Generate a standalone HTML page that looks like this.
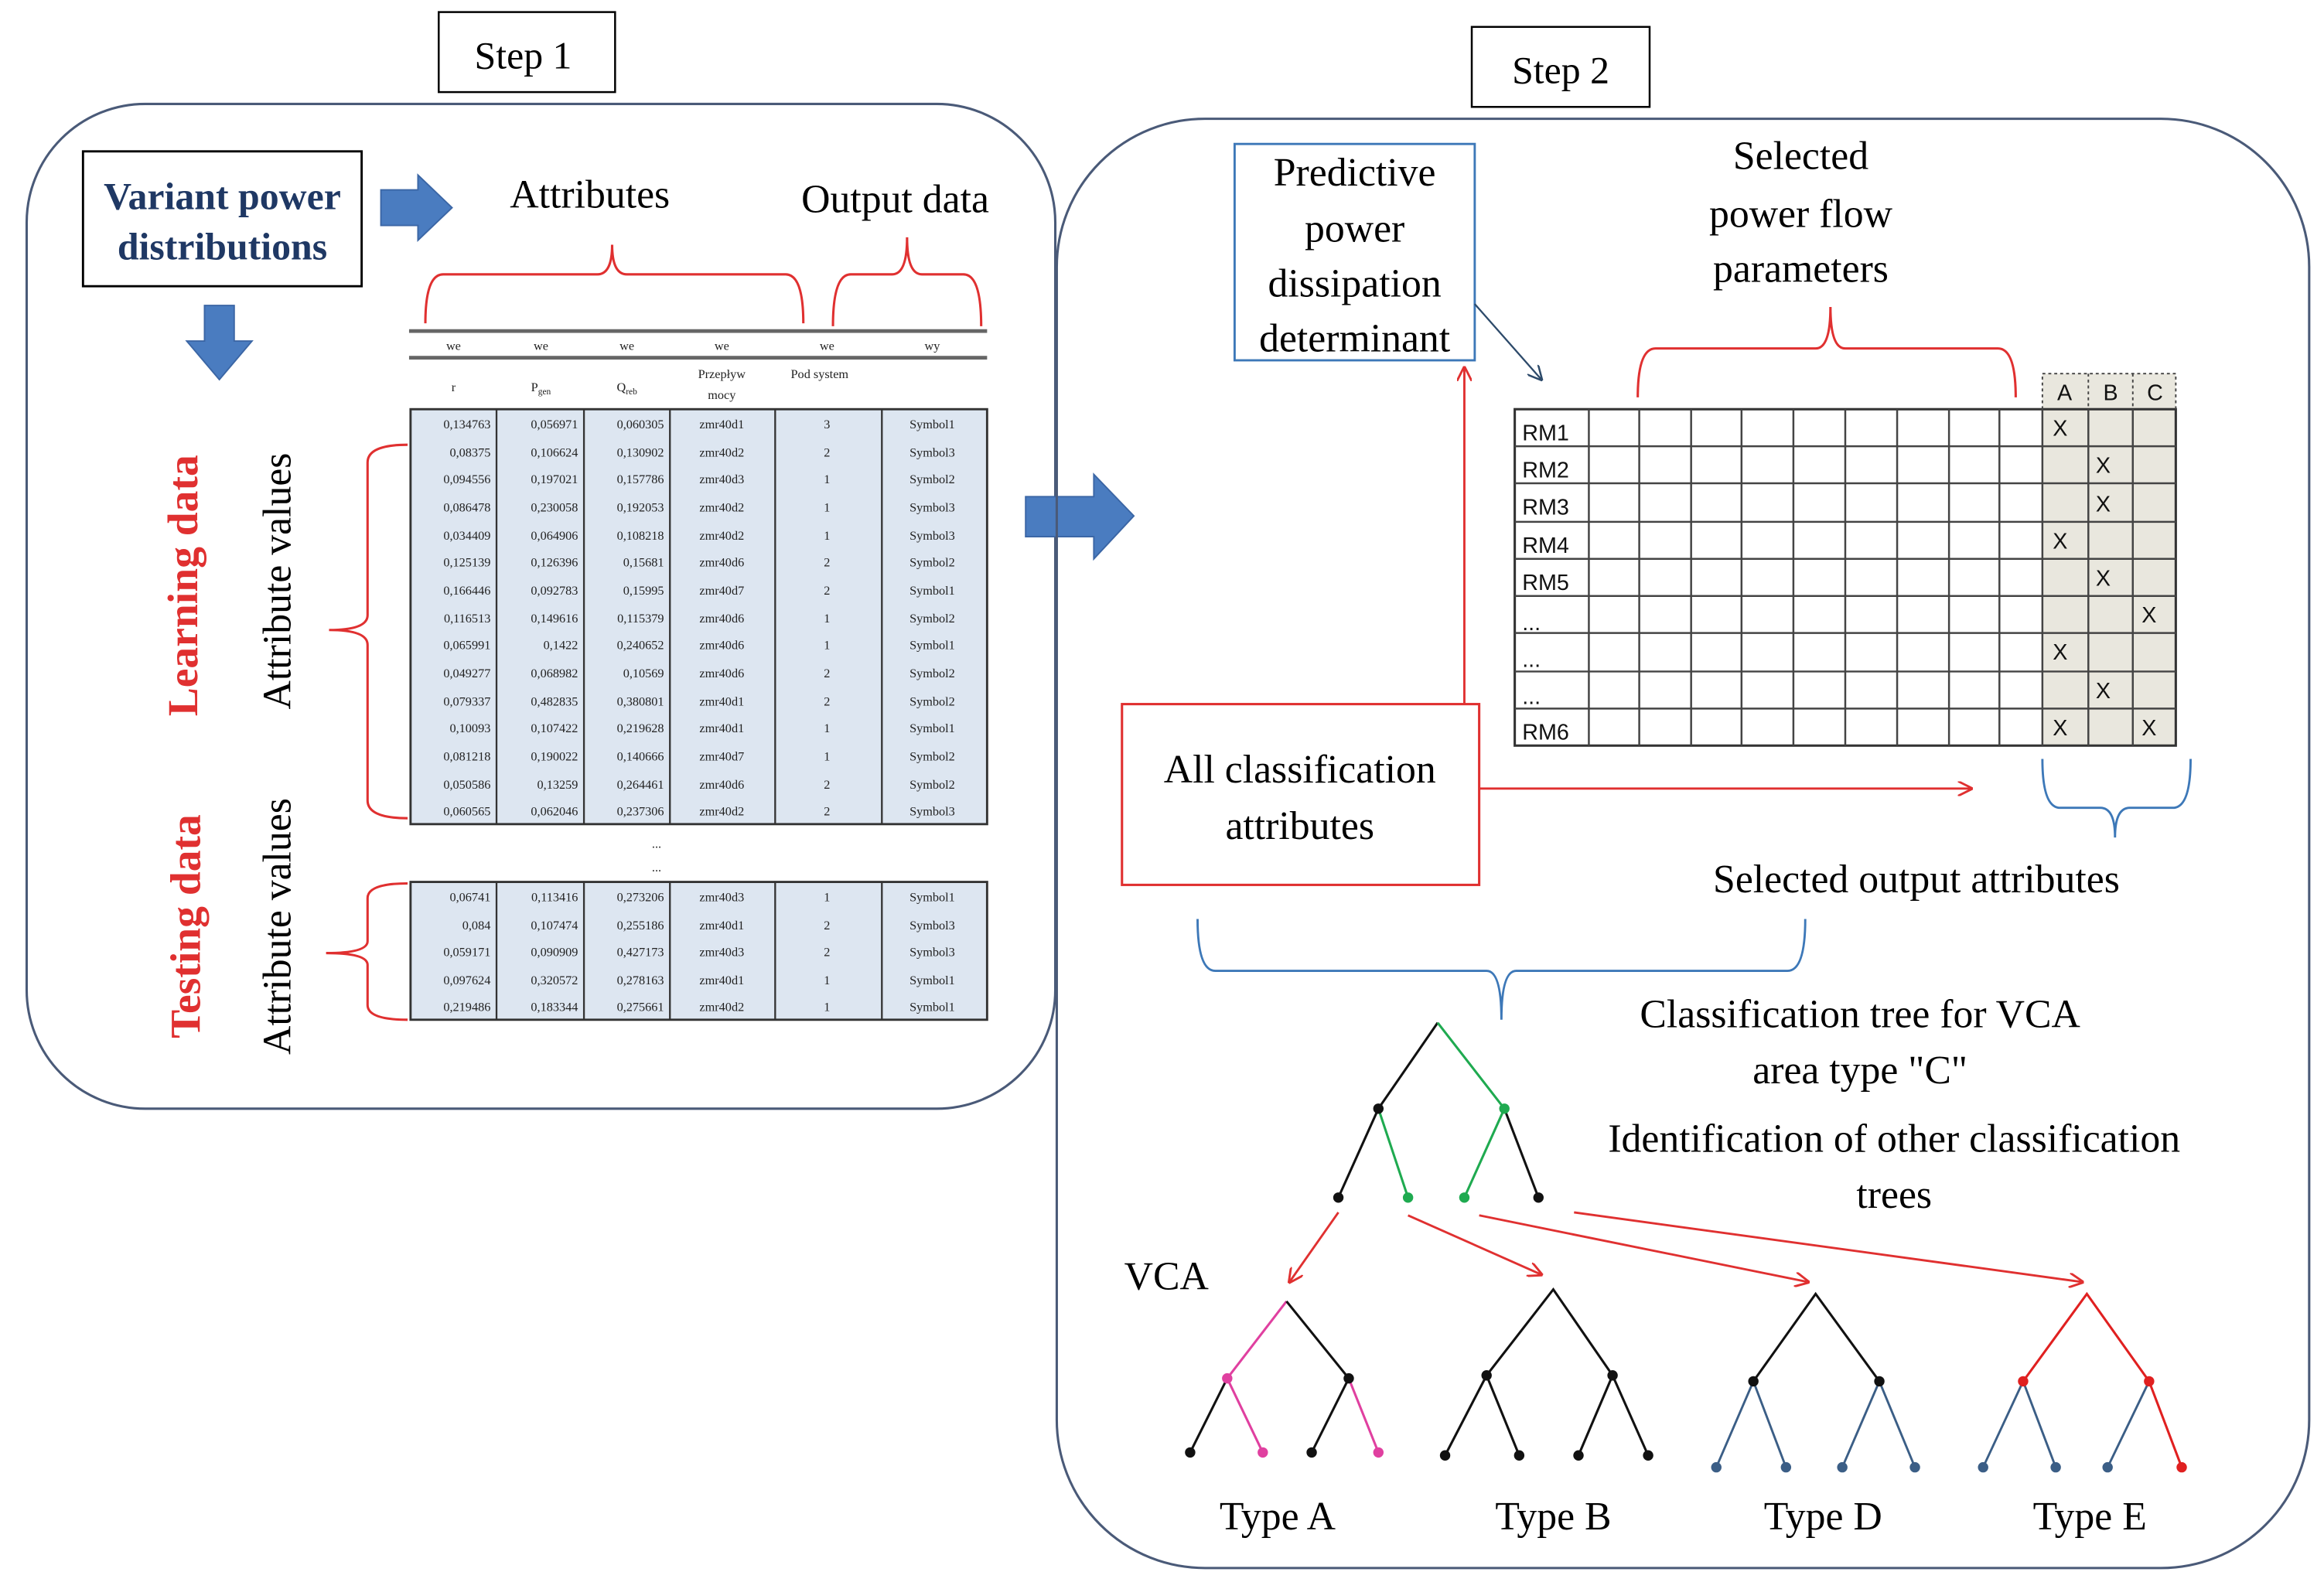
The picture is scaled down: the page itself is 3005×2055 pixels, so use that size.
<!DOCTYPE html>
<html><head><meta charset="utf-8"><style>
html,body{margin:0;padding:0;background:#fff;}
svg{display:block;}
.s{font-family:"Liberation Serif",serif;}
.a{font-family:"Liberation Sans",sans-serif;}
.t{font-family:"Liberation Serif",serif;font-size:8.5px;fill:#222;}
</style></head><body>
<svg width="3005" height="2055" viewBox="0 0 1568 1072" xmlns="http://www.w3.org/2000/svg">
<defs>
<marker id="ar" markerWidth="10" markerHeight="10" refX="9" refY="5" orient="auto" markerUnits="userSpaceOnUse"><path d="M0,0 L10,5 L0,10" fill="none" stroke="#e03030" stroke-width="1.5"/></marker>
<marker id="ab" markerWidth="10" markerHeight="10" refX="9" refY="5" orient="auto" markerUnits="userSpaceOnUse"><path d="M0,0 L10,5 L0,10" fill="none" stroke="#2d4a6a" stroke-width="1.3"/></marker>
</defs>
<rect width="1568" height="1072" fill="#fff"/>

<!-- Step 1 -->
<rect x="296" y="8" width="119" height="54" fill="#fff" stroke="#000" stroke-width="1.3"/>
<text x="353" y="46" class="s" font-size="26" text-anchor="middle">Step 1</text>
<rect x="18" y="70" width="694" height="678" rx="80" fill="none" stroke="#4a5a78" stroke-width="1.6"/>

<rect x="56" y="102" width="188" height="91" fill="#fff" stroke="#000" stroke-width="1.5"/>
<text x="150" y="141" class="s" font-size="26" font-weight="bold" fill="#1f3864" text-anchor="middle">Variant power</text>
<text x="150" y="175" class="s" font-size="26" font-weight="bold" fill="#1f3864" text-anchor="middle">distributions</text>

<polygon points="257,128 282,128 282,118 305,140 282,162 282,152 257,152" fill="#4a7cc0" stroke="#3b66a5"/>
<polygon points="138,206 158,206 158,230 170,230 148,256 126,230 138,230" fill="#4a7cc0" stroke="#3b66a5"/>
<polygon points="692,335 738,335 738,320 765,348 738,377 738,362 692,362" fill="#4a7cc0" stroke="#3b66a5"/>

<text x="398" y="140" class="s" font-size="27" text-anchor="middle">Attributes</text>
<text x="604" y="143" class="s" font-size="27" text-anchor="middle">Output data</text>

<g fill="none" stroke="#e03030" stroke-width="1.6">
<path d="M287 218 Q287 185 299 185 L403 185 Q413 185 413 165 Q413 185 423 185 L530 185 Q542 185 542 218"/>
<path d="M562 220 Q562 185 574 185 L602 185 Q612 185 612 160 Q612 185 622 185 L650 185 Q662 185 662 220"/>
<path d="M275 300 Q248 300 248 312 L248 415 Q248 425 222 425 Q248 425 248 435 L248 540 Q248 552 275 552"/>
<path d="M275 596 Q248 596 248 606 L248 635 Q248 643 220 643 Q248 643 248 651 L248 678 Q248 688 275 688"/>
</g>

<!-- table -->
<g>
<rect x="276" y="222" width="390" height="2.5" fill="#666"/>
<rect x="276" y="240" width="390" height="2.5" fill="#666"/>
<text x="306" y="236" class="t" text-anchor="middle">we</text>
<text x="365" y="236" class="t" text-anchor="middle">we</text>
<text x="423" y="236" class="t" text-anchor="middle">we</text>
<text x="487" y="236" class="t" text-anchor="middle">we</text>
<text x="558" y="236" class="t" text-anchor="middle">we</text>
<text x="629" y="236" class="t" text-anchor="middle">wy</text>
<text x="306" y="264" class="t" text-anchor="middle">r</text>
<text x="365" y="264" class="t" text-anchor="middle">P<tspan font-size="6" dy="2">gen</tspan></text>
<text x="423" y="264" class="t" text-anchor="middle">Q<tspan font-size="6" dy="2">reb</tspan></text>
<text x="487" y="255" class="t" text-anchor="middle">Przepływ</text>
<text x="487" y="269" class="t" text-anchor="middle">mocy</text>
<text x="553" y="255" class="t" text-anchor="middle">Pod system</text>
<rect x="277" y="276" width="389" height="280" fill="#dde6f1" stroke="#333" stroke-width="1.5"/>
<rect x="277" y="595" width="389" height="93" fill="#dde6f1" stroke="#333" stroke-width="1.5"/>
<g stroke="#333" stroke-width="1.2">
<line x1="335" y1="276" x2="335" y2="556"/><line x1="394" y1="276" x2="394" y2="556"/><line x1="452" y1="276" x2="452" y2="556"/><line x1="523" y1="276" x2="523" y2="556"/><line x1="595" y1="276" x2="595" y2="556"/>
<line x1="335" y1="595" x2="335" y2="688"/><line x1="394" y1="595" x2="394" y2="688"/><line x1="452" y1="595" x2="452" y2="688"/><line x1="523" y1="595" x2="523" y2="688"/><line x1="595" y1="595" x2="595" y2="688"/>
</g>
<text x="443" y="572" class="t" text-anchor="middle">...</text>
<text x="443" y="588" class="t" text-anchor="middle">...</text>
<g class="t">
<g text-anchor="end">
<text x="331" y="289">0,134763</text><text x="390" y="289">0,056971</text><text x="448" y="289">0,060305</text>
<text x="331" y="308">0,08375</text><text x="390" y="308">0,106624</text><text x="448" y="308">0,130902</text>
<text x="331" y="326">0,094556</text><text x="390" y="326">0,197021</text><text x="448" y="326">0,157786</text>
<text x="331" y="345">0,086478</text><text x="390" y="345">0,230058</text><text x="448" y="345">0,192053</text>
<text x="331" y="364">0,034409</text><text x="390" y="364">0,064906</text><text x="448" y="364">0,108218</text>
<text x="331" y="382">0,125139</text><text x="390" y="382">0,126396</text><text x="448" y="382">0,15681</text>
<text x="331" y="401">0,166446</text><text x="390" y="401">0,092783</text><text x="448" y="401">0,15995</text>
<text x="331" y="420">0,116513</text><text x="390" y="420">0,149616</text><text x="448" y="420">0,115379</text>
<text x="331" y="438">0,065991</text><text x="390" y="438">0,1422</text><text x="448" y="438">0,240652</text>
<text x="331" y="457">0,049277</text><text x="390" y="457">0,068982</text><text x="448" y="457">0,10569</text>
<text x="331" y="476">0,079337</text><text x="390" y="476">0,482835</text><text x="448" y="476">0,380801</text>
<text x="331" y="494">0,10093</text><text x="390" y="494">0,107422</text><text x="448" y="494">0,219628</text>
<text x="331" y="513">0,081218</text><text x="390" y="513">0,190022</text><text x="448" y="513">0,140666</text>
<text x="331" y="532">0,050586</text><text x="390" y="532">0,13259</text><text x="448" y="532">0,264461</text>
<text x="331" y="550">0,060565</text><text x="390" y="550">0,062046</text><text x="448" y="550">0,237306</text>
<text x="331" y="608">0,06741</text><text x="390" y="608">0,113416</text><text x="448" y="608">0,273206</text>
<text x="331" y="627">0,084</text><text x="390" y="627">0,107474</text><text x="448" y="627">0,255186</text>
<text x="331" y="645">0,059171</text><text x="390" y="645">0,090909</text><text x="448" y="645">0,427173</text>
<text x="331" y="664">0,097624</text><text x="390" y="664">0,320572</text><text x="448" y="664">0,278163</text>
<text x="331" y="682">0,219486</text><text x="390" y="682">0,183344</text><text x="448" y="682">0,275661</text>
</g>
<g text-anchor="middle">
<text x="487" y="289">zmr40d1</text><text x="558" y="289">3</text><text x="629" y="289">Symbol1</text>
<text x="487" y="308">zmr40d2</text><text x="558" y="308">2</text><text x="629" y="308">Symbol3</text>
<text x="487" y="326">zmr40d3</text><text x="558" y="326">1</text><text x="629" y="326">Symbol2</text>
<text x="487" y="345">zmr40d2</text><text x="558" y="345">1</text><text x="629" y="345">Symbol3</text>
<text x="487" y="364">zmr40d2</text><text x="558" y="364">1</text><text x="629" y="364">Symbol3</text>
<text x="487" y="382">zmr40d6</text><text x="558" y="382">2</text><text x="629" y="382">Symbol2</text>
<text x="487" y="401">zmr40d7</text><text x="558" y="401">2</text><text x="629" y="401">Symbol1</text>
<text x="487" y="420">zmr40d6</text><text x="558" y="420">1</text><text x="629" y="420">Symbol2</text>
<text x="487" y="438">zmr40d6</text><text x="558" y="438">1</text><text x="629" y="438">Symbol1</text>
<text x="487" y="457">zmr40d6</text><text x="558" y="457">2</text><text x="629" y="457">Symbol2</text>
<text x="487" y="476">zmr40d1</text><text x="558" y="476">2</text><text x="629" y="476">Symbol2</text>
<text x="487" y="494">zmr40d1</text><text x="558" y="494">1</text><text x="629" y="494">Symbol1</text>
<text x="487" y="513">zmr40d7</text><text x="558" y="513">1</text><text x="629" y="513">Symbol2</text>
<text x="487" y="532">zmr40d6</text><text x="558" y="532">2</text><text x="629" y="532">Symbol2</text>
<text x="487" y="550">zmr40d2</text><text x="558" y="550">2</text><text x="629" y="550">Symbol3</text>
<text x="487" y="608">zmr40d3</text><text x="558" y="608">1</text><text x="629" y="608">Symbol1</text>
<text x="487" y="627">zmr40d1</text><text x="558" y="627">2</text><text x="629" y="627">Symbol3</text>
<text x="487" y="645">zmr40d3</text><text x="558" y="645">2</text><text x="629" y="645">Symbol3</text>
<text x="487" y="664">zmr40d1</text><text x="558" y="664">1</text><text x="629" y="664">Symbol1</text>
<text x="487" y="682">zmr40d2</text><text x="558" y="682">1</text><text x="629" y="682">Symbol1</text>
</g>
</g>
</g>

<text transform="translate(133,395) rotate(-90)" class="s" font-size="29" font-weight="bold" fill="#e03030" text-anchor="middle">Learning data</text>
<text transform="translate(196,392) rotate(-90)" class="s" font-size="27" text-anchor="middle">Attribute values</text>
<text transform="translate(135,625) rotate(-90)" class="s" font-size="29" font-weight="bold" fill="#e03030" text-anchor="middle">Testing data</text>
<text transform="translate(196,625) rotate(-90)" class="s" font-size="27" text-anchor="middle">Attribute values</text>

<!-- Step 2 -->
<rect x="993" y="18" width="120" height="54" fill="#fff" stroke="#000" stroke-width="1.3"/>
<text x="1053" y="56" class="s" font-size="26" text-anchor="middle">Step 2</text>
<rect x="713" y="80" width="845" height="978" rx="100" fill="none" stroke="#4a5a78" stroke-width="1.6"/>

<rect x="833" y="97" width="162" height="146" fill="#fff" stroke="#3d78b8" stroke-width="1.5"/>
<rect x="757" y="475" width="241" height="122" fill="#fff" stroke="#e03030" stroke-width="1.6"/>
<g class="s" font-size="27" text-anchor="middle">
<text x="914" y="125">Predictive</text><text x="914" y="163">power</text><text x="914" y="200">dissipation</text><text x="914" y="237">determinant</text>
<text x="1215" y="114">Selected</text><text x="1215" y="153">power flow</text><text x="1215" y="190">parameters</text>
<text x="877" y="528">All classification</text><text x="877" y="566">attributes</text>
<text x="1293" y="602">Selected output attributes</text>
<text x="1255" y="693">Classification tree for VCA</text>
<text x="1255" y="731">area type "C"</text>
<text x="1278" y="777">Identification of other classification</text>
<text x="1278" y="815">trees</text>
<text x="787" y="870">VCA</text>
<text x="862" y="1032">Type A</text><text x="1048" y="1032">Type B</text><text x="1230" y="1032">Type D</text><text x="1410" y="1032">Type E</text>
</g>
<line x1="995" y1="205" x2="1040" y2="256" stroke="#2d4a6a" stroke-width="1.2" marker-end="url(#ab)"/>

<path d="M1105 268 Q1105 235 1117 235 L1225 235 Q1235 235 1235 207 Q1235 235 1245 235 L1348 235 Q1360 235 1360 268" fill="none" stroke="#e03030" stroke-width="1.6"/>

<!-- grid -->
<rect x="1378" y="252" width="90" height="251" fill="#e9e7de"/>
<rect x="1022" y="276" width="446" height="227" fill="none" stroke="#333" stroke-width="1.6"/>
<g stroke="#444" stroke-width="1.3">
<line x1="1072" y1="276" x2="1072" y2="503"/><line x1="1106" y1="276" x2="1106" y2="503"/><line x1="1141" y1="276" x2="1141" y2="503"/><line x1="1175" y1="276" x2="1175" y2="503"/><line x1="1210" y1="276" x2="1210" y2="503"/><line x1="1245" y1="276" x2="1245" y2="503"/><line x1="1280" y1="276" x2="1280" y2="503"/><line x1="1315" y1="276" x2="1315" y2="503"/><line x1="1349" y1="276" x2="1349" y2="503"/><line x1="1378" y1="276" x2="1378" y2="503"/><line x1="1409" y1="276" x2="1409" y2="503"/><line x1="1439" y1="276" x2="1439" y2="503"/>
<line x1="1022" y1="301" x2="1468" y2="301"/><line x1="1022" y1="326" x2="1468" y2="326"/><line x1="1022" y1="352" x2="1468" y2="352"/><line x1="1022" y1="377" x2="1468" y2="377"/><line x1="1022" y1="402" x2="1468" y2="402"/><line x1="1022" y1="427" x2="1468" y2="427"/><line x1="1022" y1="453" x2="1468" y2="453"/><line x1="1022" y1="478" x2="1468" y2="478"/>
</g>
<g stroke="#444" stroke-width="1" stroke-dasharray="2,2" fill="none">
<path d="M1378 276 L1378 252 L1468 252 L1468 276 M1409 252 L1409 276 M1439 252 L1439 276"/>
</g>
<g class="a" font-size="15" fill="#111">
<text x="1393" y="270" text-anchor="middle">A</text><text x="1424" y="270" text-anchor="middle">B</text><text x="1454" y="270" text-anchor="middle">C</text>
<text x="1027" y="297">RM1</text><text x="1027" y="322">RM2</text><text x="1027" y="347">RM3</text><text x="1027" y="373">RM4</text><text x="1027" y="398">RM5</text>
<text x="1027" y="425">...</text><text x="1027" y="450">...</text><text x="1027" y="475">...</text><text x="1027" y="499">RM6</text>
<g text-anchor="middle">
<text x="1390" y="294">X</text><text x="1419" y="319">X</text><text x="1419" y="345">X</text><text x="1390" y="370">X</text><text x="1419" y="395">X</text><text x="1450" y="420">X</text><text x="1390" y="445">X</text><text x="1419" y="471">X</text><text x="1390" y="496">X</text><text x="1450" y="496">X</text>
</g>
</g>

<path d="M1378 512 Q1378 545 1390 545 L1417 545 Q1427 545 1427 565 Q1427 545 1437 545 L1466 545 Q1478 545 1478 512" fill="none" stroke="#3d78b8" stroke-width="1.5"/>
<path d="M808 620 Q808 655 820 655 L1003 655 Q1013 655 1013 688 Q1013 655 1023 655 L1206 655 Q1218 655 1218 620" fill="none" stroke="#3d78b8" stroke-width="1.5"/>

<g stroke="#e03030" stroke-width="1.5" fill="none" marker-end="url(#ar)">
<line x1="988" y1="475" x2="988" y2="248"/>
<line x1="998" y1="532" x2="1330" y2="532"/>
<line x1="903" y1="818" x2="870" y2="865"/>
<line x1="950" y1="820" x2="1040" y2="860"/>
<line x1="998" y1="820" x2="1220" y2="865"/>
<line x1="1062" y1="818" x2="1405" y2="865"/>
</g>

<!-- main tree -->
<g stroke-width="1.6" fill="none">
<path d="M970 690 L930 748 L903 808" stroke="#111"/>
<path d="M930 748 L950 808" stroke="#1faa50"/>
<path d="M970 690 L1015 748 L988 808" stroke="#1faa50"/>
<path d="M1015 748 L1038 808" stroke="#111"/>
</g>
<g>
<circle cx="930" cy="748" r="3.5" fill="#111"/><circle cx="1015" cy="748" r="3.5" fill="#1faa50"/>
<circle cx="903" cy="808" r="3.5" fill="#111"/><circle cx="950" cy="808" r="3.5" fill="#1faa50"/><circle cx="988" cy="808" r="3.5" fill="#1faa50"/><circle cx="1038" cy="808" r="3.5" fill="#111"/>
</g>

<!-- Type A -->
<g stroke-width="1.6" fill="none">
<path d="M868 878 L828 930" stroke="#e040a0"/>
<path d="M868 878 L910 930 L885 980" stroke="#111"/>
<path d="M828 930 L803 980" stroke="#111"/>
<path d="M828 930 L852 980" stroke="#e040a0"/>
<path d="M910 930 L930 980" stroke="#e040a0"/>
</g>
<circle cx="828" cy="930" r="3.5" fill="#e040a0"/><circle cx="910" cy="930" r="3.5" fill="#111"/>
<circle cx="803" cy="980" r="3.5" fill="#111"/><circle cx="852" cy="980" r="3.5" fill="#e040a0"/><circle cx="885" cy="980" r="3.5" fill="#111"/><circle cx="930" cy="980" r="3.5" fill="#e040a0"/>

<!-- Type B -->
<path d="M1003 928 L1048 870 L1088 928 M1003 928 L975 982 M1003 928 L1025 982 M1088 928 L1065 982 M1088 928 L1112 982" stroke="#111" stroke-width="1.6" fill="none"/>
<g fill="#111"><circle cx="1003" cy="928" r="3.5"/><circle cx="1088" cy="928" r="3.5"/><circle cx="975" cy="982" r="3.5"/><circle cx="1025" cy="982" r="3.5"/><circle cx="1065" cy="982" r="3.5"/><circle cx="1112" cy="982" r="3.5"/></g>

<!-- Type D -->
<path d="M1183 932 L1225 873 L1268 932" stroke="#111" stroke-width="1.6" fill="none"/>
<path d="M1183 932 L1158 990 M1183 932 L1205 990 M1268 932 L1243 990 M1268 932 L1292 990" stroke="#3b5e86" stroke-width="1.5" fill="none"/>
<circle cx="1183" cy="932" r="3.5" fill="#111"/><circle cx="1268" cy="932" r="3.5" fill="#111"/>
<g fill="#3b5e86"><circle cx="1158" cy="990" r="3.5"/><circle cx="1205" cy="990" r="3.5"/><circle cx="1243" cy="990" r="3.5"/><circle cx="1292" cy="990" r="3.5"/></g>

<!-- Type E -->
<path d="M1365 932 L1408 873 L1450 932 L1472 990" stroke="#e02020" stroke-width="1.6" fill="none"/>
<path d="M1365 932 L1338 990 M1365 932 L1387 990 M1450 932 L1422 990" stroke="#3b5e86" stroke-width="1.5" fill="none"/>
<circle cx="1365" cy="932" r="3.5" fill="#e02020"/><circle cx="1450" cy="932" r="3.5" fill="#e02020"/>
<g fill="#3b5e86"><circle cx="1338" cy="990" r="3.5"/><circle cx="1387" cy="990" r="3.5"/><circle cx="1422" cy="990" r="3.5"/></g>
<circle cx="1472" cy="990" r="3.5" fill="#e02020"/>
</svg>
</body></html>
